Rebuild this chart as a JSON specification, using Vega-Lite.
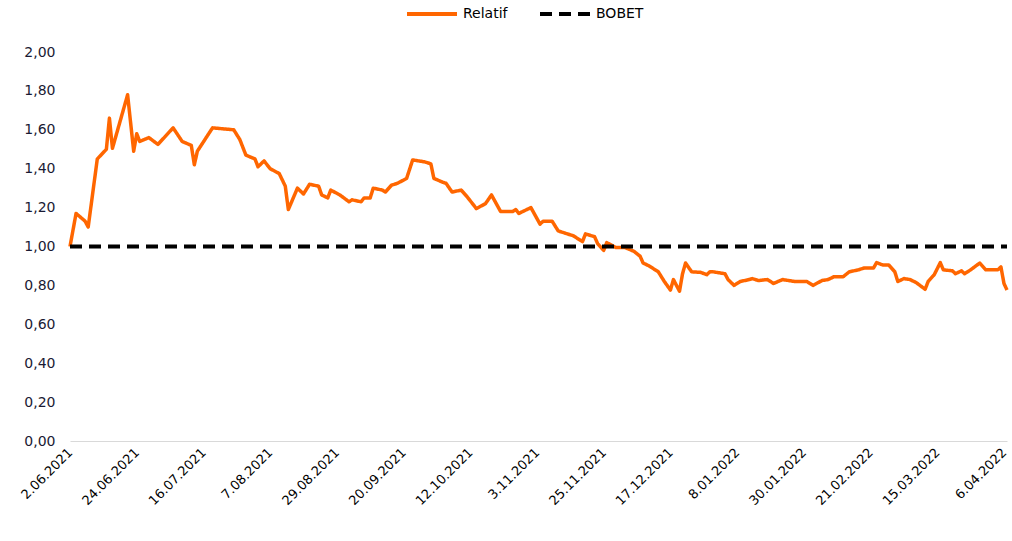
{
  "$schema": "https://vega.github.io/schema/vega-lite/v6.json",
  "width": 937,
  "height": 389,
  "autosize": "none",
  "padding": {"left": 70, "top": 52, "right": 5, "bottom": 100},
  "background": "white",
  "config": {"view": {"stroke": null}, "font": "DejaVu Sans"},
  "data": {
    "format": {"parse": {"date": "utc:'%Y-%m-%d'"}},
    "values": [
      {"date": "2021-06-02", "value": 1.00, "series": "Relatif"},
      {"date": "2021-06-04", "value": 1.17, "series": "Relatif"},
      {"date": "2021-06-07", "value": 1.13, "series": "Relatif"},
      {"date": "2021-06-08", "value": 1.10, "series": "Relatif"},
      {"date": "2021-06-11", "value": 1.45, "series": "Relatif"},
      {"date": "2021-06-14", "value": 1.50, "series": "Relatif"},
      {"date": "2021-06-15", "value": 1.66, "series": "Relatif"},
      {"date": "2021-06-16", "value": 1.505, "series": "Relatif"},
      {"date": "2021-06-21", "value": 1.78, "series": "Relatif"},
      {"date": "2021-06-23", "value": 1.49, "series": "Relatif"},
      {"date": "2021-06-24", "value": 1.58, "series": "Relatif"},
      {"date": "2021-06-25", "value": 1.54, "series": "Relatif"},
      {"date": "2021-06-28", "value": 1.56, "series": "Relatif"},
      {"date": "2021-07-01", "value": 1.525, "series": "Relatif"},
      {"date": "2021-07-06", "value": 1.61, "series": "Relatif"},
      {"date": "2021-07-09", "value": 1.54, "series": "Relatif"},
      {"date": "2021-07-12", "value": 1.52, "series": "Relatif"},
      {"date": "2021-07-13", "value": 1.42, "series": "Relatif"},
      {"date": "2021-07-14", "value": 1.49, "series": "Relatif"},
      {"date": "2021-07-19", "value": 1.61, "series": "Relatif"},
      {"date": "2021-07-26", "value": 1.60, "series": "Relatif"},
      {"date": "2021-07-28", "value": 1.55, "series": "Relatif"},
      {"date": "2021-07-30", "value": 1.47, "series": "Relatif"},
      {"date": "2021-08-02", "value": 1.45, "series": "Relatif"},
      {"date": "2021-08-03", "value": 1.41, "series": "Relatif"},
      {"date": "2021-08-05", "value": 1.44, "series": "Relatif"},
      {"date": "2021-08-07", "value": 1.40, "series": "Relatif"},
      {"date": "2021-08-10", "value": 1.375, "series": "Relatif"},
      {"date": "2021-08-12", "value": 1.31, "series": "Relatif"},
      {"date": "2021-08-13", "value": 1.19, "series": "Relatif"},
      {"date": "2021-08-16", "value": 1.30, "series": "Relatif"},
      {"date": "2021-08-18", "value": 1.27, "series": "Relatif"},
      {"date": "2021-08-20", "value": 1.32, "series": "Relatif"},
      {"date": "2021-08-23", "value": 1.31, "series": "Relatif"},
      {"date": "2021-08-24", "value": 1.265, "series": "Relatif"},
      {"date": "2021-08-26", "value": 1.25, "series": "Relatif"},
      {"date": "2021-08-27", "value": 1.29, "series": "Relatif"},
      {"date": "2021-08-30", "value": 1.265, "series": "Relatif"},
      {"date": "2021-09-02", "value": 1.23, "series": "Relatif"},
      {"date": "2021-09-03", "value": 1.24, "series": "Relatif"},
      {"date": "2021-09-06", "value": 1.23, "series": "Relatif"},
      {"date": "2021-09-07", "value": 1.25, "series": "Relatif"},
      {"date": "2021-09-09", "value": 1.25, "series": "Relatif"},
      {"date": "2021-09-10", "value": 1.30, "series": "Relatif"},
      {"date": "2021-09-13", "value": 1.29, "series": "Relatif"},
      {"date": "2021-09-14", "value": 1.28, "series": "Relatif"},
      {"date": "2021-09-16", "value": 1.315, "series": "Relatif"},
      {"date": "2021-09-18", "value": 1.325, "series": "Relatif"},
      {"date": "2021-09-21", "value": 1.35, "series": "Relatif"},
      {"date": "2021-09-23", "value": 1.445, "series": "Relatif"},
      {"date": "2021-09-27", "value": 1.435, "series": "Relatif"},
      {"date": "2021-09-29", "value": 1.425, "series": "Relatif"},
      {"date": "2021-09-30", "value": 1.35, "series": "Relatif"},
      {"date": "2021-10-03", "value": 1.33, "series": "Relatif"},
      {"date": "2021-10-04", "value": 1.325, "series": "Relatif"},
      {"date": "2021-10-06", "value": 1.28, "series": "Relatif"},
      {"date": "2021-10-09", "value": 1.29, "series": "Relatif"},
      {"date": "2021-10-11", "value": 1.255, "series": "Relatif"},
      {"date": "2021-10-14", "value": 1.195, "series": "Relatif"},
      {"date": "2021-10-17", "value": 1.22, "series": "Relatif"},
      {"date": "2021-10-19", "value": 1.265, "series": "Relatif"},
      {"date": "2021-10-22", "value": 1.18, "series": "Relatif"},
      {"date": "2021-10-26", "value": 1.18, "series": "Relatif"},
      {"date": "2021-10-27", "value": 1.19, "series": "Relatif"},
      {"date": "2021-10-28", "value": 1.17, "series": "Relatif"},
      {"date": "2021-11-01", "value": 1.20, "series": "Relatif"},
      {"date": "2021-11-04", "value": 1.115, "series": "Relatif"},
      {"date": "2021-11-05", "value": 1.13, "series": "Relatif"},
      {"date": "2021-11-08", "value": 1.13, "series": "Relatif"},
      {"date": "2021-11-10", "value": 1.08, "series": "Relatif"},
      {"date": "2021-11-12", "value": 1.07, "series": "Relatif"},
      {"date": "2021-11-15", "value": 1.055, "series": "Relatif"},
      {"date": "2021-11-18", "value": 1.025, "series": "Relatif"},
      {"date": "2021-11-19", "value": 1.065, "series": "Relatif"},
      {"date": "2021-11-22", "value": 1.05, "series": "Relatif"},
      {"date": "2021-11-23", "value": 1.015, "series": "Relatif"},
      {"date": "2021-11-25", "value": 0.98, "series": "Relatif"},
      {"date": "2021-11-26", "value": 1.02, "series": "Relatif"},
      {"date": "2021-11-29", "value": 0.995, "series": "Relatif"},
      {"date": "2021-12-02", "value": 0.995, "series": "Relatif"},
      {"date": "2021-12-05", "value": 0.975, "series": "Relatif"},
      {"date": "2021-12-07", "value": 0.95, "series": "Relatif"},
      {"date": "2021-12-08", "value": 0.915, "series": "Relatif"},
      {"date": "2021-12-10", "value": 0.90, "series": "Relatif"},
      {"date": "2021-12-13", "value": 0.87, "series": "Relatif"},
      {"date": "2021-12-15", "value": 0.82, "series": "Relatif"},
      {"date": "2021-12-17", "value": 0.776, "series": "Relatif"},
      {"date": "2021-12-18", "value": 0.83, "series": "Relatif"},
      {"date": "2021-12-20", "value": 0.77, "series": "Relatif"},
      {"date": "2021-12-21", "value": 0.86, "series": "Relatif"},
      {"date": "2021-12-22", "value": 0.915, "series": "Relatif"},
      {"date": "2021-12-24", "value": 0.87, "series": "Relatif"},
      {"date": "2021-12-27", "value": 0.867, "series": "Relatif"},
      {"date": "2021-12-29", "value": 0.855, "series": "Relatif"},
      {"date": "2021-12-30", "value": 0.87, "series": "Relatif"},
      {"date": "2021-12-31", "value": 0.87, "series": "Relatif"},
      {"date": "2022-01-04", "value": 0.86, "series": "Relatif"},
      {"date": "2022-01-05", "value": 0.83, "series": "Relatif"},
      {"date": "2022-01-07", "value": 0.80, "series": "Relatif"},
      {"date": "2022-01-09", "value": 0.82, "series": "Relatif"},
      {"date": "2022-01-12", "value": 0.83, "series": "Relatif"},
      {"date": "2022-01-13", "value": 0.835, "series": "Relatif"},
      {"date": "2022-01-15", "value": 0.825, "series": "Relatif"},
      {"date": "2022-01-18", "value": 0.83, "series": "Relatif"},
      {"date": "2022-01-20", "value": 0.81, "series": "Relatif"},
      {"date": "2022-01-23", "value": 0.83, "series": "Relatif"},
      {"date": "2022-01-27", "value": 0.82, "series": "Relatif"},
      {"date": "2022-01-31", "value": 0.82, "series": "Relatif"},
      {"date": "2022-02-02", "value": 0.80, "series": "Relatif"},
      {"date": "2022-02-05", "value": 0.825, "series": "Relatif"},
      {"date": "2022-02-07", "value": 0.83, "series": "Relatif"},
      {"date": "2022-02-09", "value": 0.845, "series": "Relatif"},
      {"date": "2022-02-12", "value": 0.845, "series": "Relatif"},
      {"date": "2022-02-14", "value": 0.87, "series": "Relatif"},
      {"date": "2022-02-17", "value": 0.88, "series": "Relatif"},
      {"date": "2022-02-19", "value": 0.89, "series": "Relatif"},
      {"date": "2022-02-22", "value": 0.89, "series": "Relatif"},
      {"date": "2022-02-23", "value": 0.917, "series": "Relatif"},
      {"date": "2022-02-25", "value": 0.905, "series": "Relatif"},
      {"date": "2022-02-27", "value": 0.905, "series": "Relatif"},
      {"date": "2022-03-01", "value": 0.87, "series": "Relatif"},
      {"date": "2022-03-02", "value": 0.82, "series": "Relatif"},
      {"date": "2022-03-04", "value": 0.835, "series": "Relatif"},
      {"date": "2022-03-06", "value": 0.83, "series": "Relatif"},
      {"date": "2022-03-08", "value": 0.815, "series": "Relatif"},
      {"date": "2022-03-11", "value": 0.78, "series": "Relatif"},
      {"date": "2022-03-12", "value": 0.82, "series": "Relatif"},
      {"date": "2022-03-14", "value": 0.855, "series": "Relatif"},
      {"date": "2022-03-16", "value": 0.917, "series": "Relatif"},
      {"date": "2022-03-17", "value": 0.88, "series": "Relatif"},
      {"date": "2022-03-20", "value": 0.875, "series": "Relatif"},
      {"date": "2022-03-21", "value": 0.86, "series": "Relatif"},
      {"date": "2022-03-23", "value": 0.875, "series": "Relatif"},
      {"date": "2022-03-24", "value": 0.86, "series": "Relatif"},
      {"date": "2022-03-26", "value": 0.88, "series": "Relatif"},
      {"date": "2022-03-29", "value": 0.915, "series": "Relatif"},
      {"date": "2022-03-31", "value": 0.88, "series": "Relatif"},
      {"date": "2022-04-02", "value": 0.88, "series": "Relatif"},
      {"date": "2022-04-04", "value": 0.88, "series": "Relatif"},
      {"date": "2022-04-05", "value": 0.895, "series": "Relatif"},
      {"date": "2022-04-06", "value": 0.81, "series": "Relatif"},
      {"date": "2022-04-07", "value": 0.776, "series": "Relatif"},
      {"date": "2021-06-02", "value": 1.00, "series": "BOBET"},
      {"date": "2022-04-07", "value": 1.00, "series": "BOBET"}
    ]
  },
  "encoding": {
    "x": {
      "field": "date",
      "type": "temporal",
      "title": null,
      "scale": {"type": "utc", "domain": [{"year": 2021, "month": 6, "date": 2, "utc": true}, {"year": 2022, "month": 4, "date": 7, "utc": true}]},
      "axis": {
        "values": [
          {"year": 2021, "month": 6, "date": 2, "utc": true},
          {"year": 2021, "month": 6, "date": 24, "utc": true},
          {"year": 2021, "month": 7, "date": 16, "utc": true},
          {"year": 2021, "month": 8, "date": 7, "utc": true},
          {"year": 2021, "month": 8, "date": 29, "utc": true},
          {"year": 2021, "month": 9, "date": 20, "utc": true},
          {"year": 2021, "month": 10, "date": 12, "utc": true},
          {"year": 2021, "month": 11, "date": 3, "utc": true},
          {"year": 2021, "month": 11, "date": 25, "utc": true},
          {"year": 2021, "month": 12, "date": 17, "utc": true},
          {"year": 2022, "month": 1, "date": 8, "utc": true},
          {"year": 2022, "month": 1, "date": 30, "utc": true},
          {"year": 2022, "month": 2, "date": 21, "utc": true},
          {"year": 2022, "month": 3, "date": 15, "utc": true},
          {"year": 2022, "month": 4, "date": 6, "utc": true}
        ],
        "labelExpr": "utcFormat(datum.value, '%-d.%m.%Y')",
        "labelAngle": -45,
        "labelAlign": "right",
        "labelBaseline": "middle",
        "labelPadding": 9,
        "labelFontSize": 13,
        "labelFont": "DejaVu Sans",
        "labelColor": "#000000",
        "labelOverlap": false,
        "labelFlush": false,
        "ticks": false,
        "grid": false,
        "domainColor": "#d9d9d9",
        "domainWidth": 1
      }
    },
    "y": {
      "field": "value",
      "type": "quantitative",
      "title": null,
      "scale": {"domain": [0, 2], "nice": false, "zero": true},
      "axis": {
        "values": [0, 0.2, 0.4, 0.6, 0.8, 1.0, 1.2, 1.4, 1.6, 1.8, 2.0],
        "labelExpr": "replace(format(datum.value, '.2f'), '.', ',')",
        "labelFontSize": 14,
        "labelFont": "DejaVu Sans",
        "labelColor": "#1a1a33",
        "labelPadding": 15,
        "ticks": false,
        "grid": false,
        "domain": false
      }
    },
    "color": {
      "field": "series",
      "type": "nominal",
      "scale": {"domain": ["Relatif", "BOBET"], "range": ["#ff6600", "#000000"]},
      "legend": {
        "title": null,
        "orient": "none",
        "legendX": 335,
        "legendY": -65,
        "direction": "horizontal",
        "symbolType": "stroke",
        "symbolSize": 2500,
        "symbolStrokeWidth": 4,
        "labelFontSize": 14,
        "labelFont": "DejaVu Sans",
        "labelColor": "#000000",
        "labelOffset": 4,
        "columnPadding": 24
      }
    },
    "strokeDash": {
      "field": "series",
      "type": "nominal",
      "scale": {"domain": ["Relatif", "BOBET"], "range": [[1, 0], [12, 7]]},
      "legend": {
        "title": null,
        "orient": "none",
        "legendX": 335,
        "legendY": -65,
        "direction": "horizontal",
        "symbolType": "stroke",
        "symbolSize": 2500,
        "symbolStrokeWidth": 4,
        "labelFontSize": 14,
        "labelFont": "DejaVu Sans",
        "labelColor": "#000000",
        "labelOffset": 4,
        "columnPadding": 24
      }
    }
  },
  "layer": [
    {
      "transform": [{"filter": "datum.series === 'Relatif'"}],
      "mark": {"type": "line", "strokeWidth": 3.5, "strokeJoin": "round"}
    },
    {
      "transform": [{"filter": "datum.series === 'BOBET'"}],
      "mark": {"type": "line", "strokeWidth": 4}
    }
  ]
}
